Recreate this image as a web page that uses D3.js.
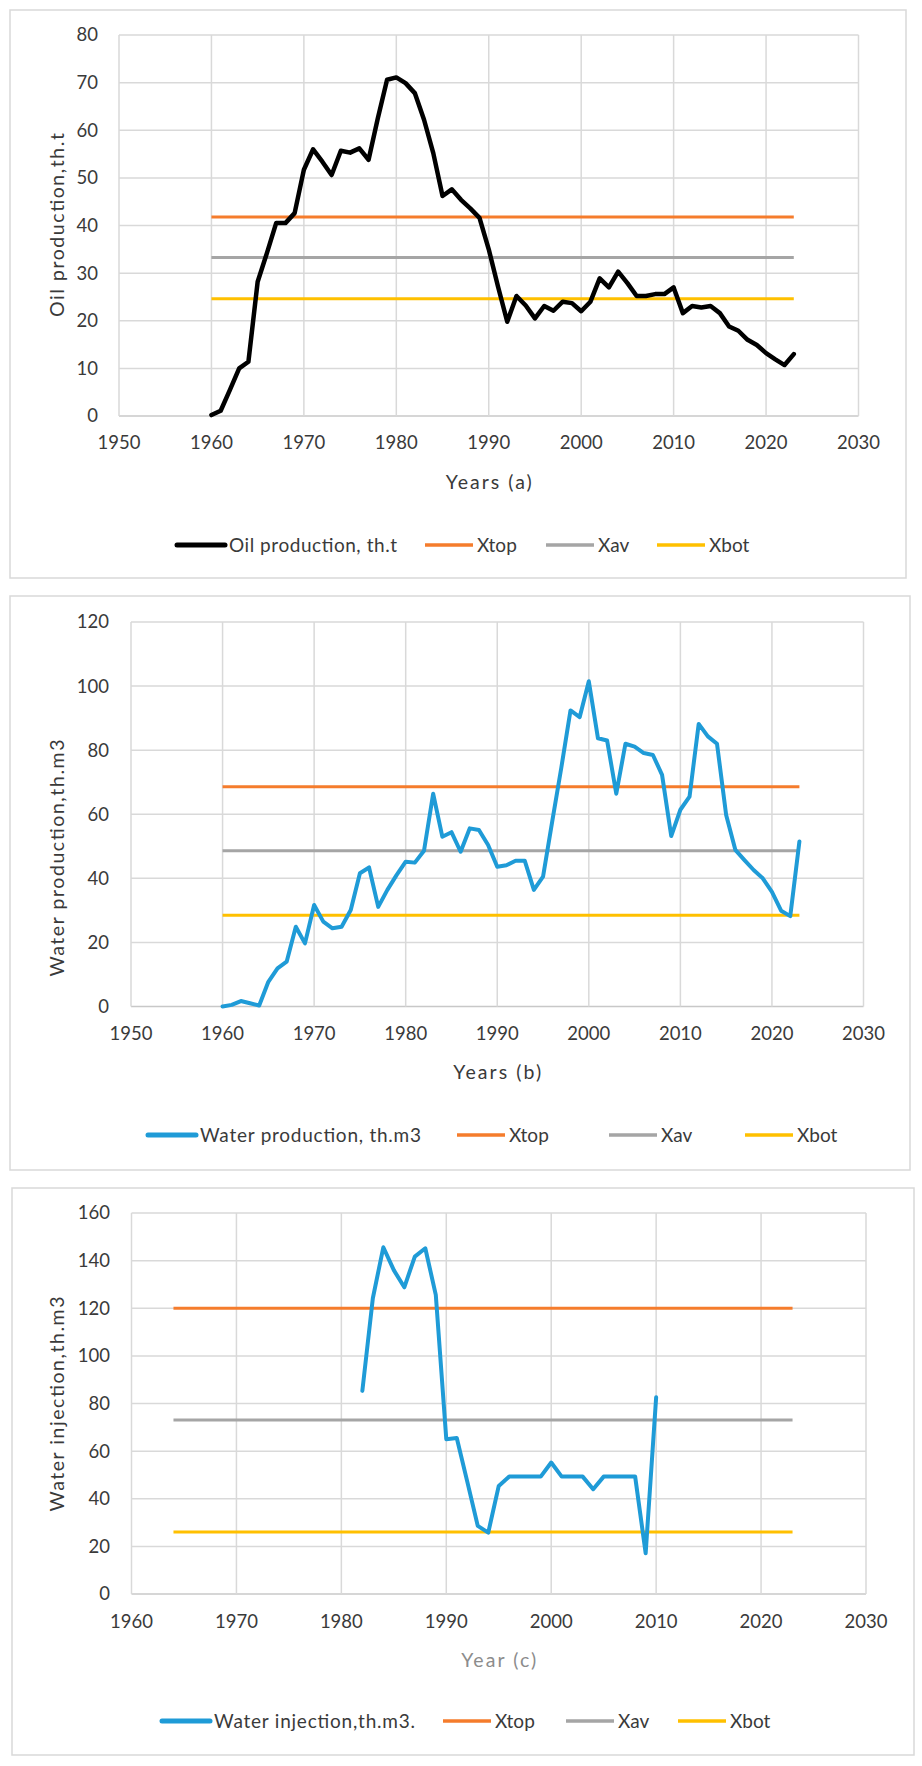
<!DOCTYPE html>
<html>
<head>
<meta charset="utf-8">
<script src="https://cdn.jsdelivr.net/npm/d3@7"></script>
<style>
  body { margin: 0; background: #fff; }
  svg { display: block; font-family: Lato, "Liberation Sans", sans-serif; }
</style>
</head>
<body>
<svg id="chart" width="922" height="1766"></svg>
<script>
// years shared by oil and water production
var prodYears = [1960, 1961, 1962, 1963, 1964, 1965, 1966, 1967, 1968, 1969,
  1970, 1971, 1972, 1973, 1974, 1975, 1976, 1977, 1978, 1979,
  1980, 1981, 1982, 1983, 1984, 1985, 1986, 1987, 1988, 1989,
  1990, 1991, 1992, 1993, 1994, 1995, 1996, 1997, 1998, 1999,
  2000, 2001, 2002, 2003, 2004, 2005, 2006, 2007, 2008, 2009,
  2010, 2011, 2012, 2013, 2014, 2015, 2016, 2017, 2018, 2019,
  2020, 2021, 2022, 2023];

var oilProduction = [0.2, 1.1, 5.5, 10, 11.4, 28.2, 34.2, 40.5, 40.5, 42.6,
  51.7, 56, 53.4, 50.6, 55.7, 55.3, 56.2, 53.8, 62.5, 70.6,
  71.1, 69.9, 67.8, 62.2, 55.2, 46.2, 47.6, 45.4, 43.6, 41.6,
  35, 27.2, 19.8, 25.2, 23.2, 20.5, 23.1, 22.1, 24, 23.7,
  22, 24, 28.9, 27, 30.3, 27.9, 25.2, 25.2, 25.6, 25.6,
  27, 21.6, 23.1, 22.8, 23.1, 21.6, 18.8, 17.9, 16, 14.9,
  13.2, 11.9, 10.7, 13];

var waterProduction = [0, 0.5, 1.7, 1, 0.3, 7.7, 11.9, 14, 24.9, 19.7,
  31.7, 26.5, 24.4, 24.9, 30.1, 41.6, 43.4, 31.1, 36.4, 41,
  45.2, 44.9, 48.6, 66.4, 53, 54.4, 48.3, 55.6, 55.1, 50.4,
  43.6, 44.1, 45.5, 45.5, 36.4, 40.5, 57.7, 74.6, 92.4, 90.3,
  101.5, 83.7, 83, 66.4, 82, 81.1, 79.1, 78.5, 72.3, 53.2,
  61.4, 65.5, 88.2, 84.3, 82, 59.8, 48.9, 45.7, 42.6, 40,
  35.8, 29.9, 28.2, 51.5];

var injYears = [1982, 1983, 1984, 1985, 1986, 1987, 1988, 1989,
  1990, 1991, 1992, 1993, 1994, 1995, 1996, 1997, 1998, 1999,
  2000, 2001, 2002, 2003, 2004, 2005, 2006, 2007, 2008, 2009, 2010];

var waterInjection = [85.3, 124.2, 145.6, 136, 128.8, 141.7, 145.2, 125.6,
  65, 65.5, 47.2, 28.6, 25.8, 45.4, 49.3, 49.3, 49.3, 49.3,
  55.2, 49.3, 49.3, 49.3, 44, 49.3, 49.3, 49.3, 49.3, 17.1, 82.6];

// Xtop, Xav, Xbot levels and the years they span
var levelNames = ["Xtop", "Xav", "Xbot"];
var oilLevels = [41.8, 33.3, 24.6];
var waterLevels = [68.6, 48.6, 28.5];
var injLevels = [120, 73.1, 26];
var oilLevelSpan = [1960, 2023];
var waterLevelSpan = [1960, 2023];
var injLevelSpan = [1964, 2023];

// axis ticks
var oilXTicks = [1950, 1960, 1970, 1980, 1990, 2000, 2010, 2020, 2030];
var oilYTicks = [0, 10, 20, 30, 40, 50, 60, 70, 80];
var waterXTicks = [1950, 1960, 1970, 1980, 1990, 2000, 2010, 2020, 2030];
var waterYTicks = [0, 20, 40, 60, 80, 100, 120];
var injXTicks = [1960, 1970, 1980, 1990, 2000, 2010, 2020, 2030];
var injYTicks = [0, 20, 40, 60, 80, 100, 120, 140, 160];

var levelColors = ["#f57c2c", "#a5a5a5", "#ffc000"];
var textColor = "#3a3a3a";
var gridColor = "#d9d9d9";

const svg = d3.select("#chart");

svg.append("rect")
    .attr("width", 922).attr("height", 1766)
    .attr("fill", "#fff");

// squeeze or stretch a label's spacing to the width it has in the picture
function fitWidth(sel, w) {
    if (w) sel.attr("textLength", w).attr("lengthAdjust", "spacing");
}

function drawPanel(p) {
    var g = svg.append("g");

    g.append("rect")
        .attr("x", p.box[0]).attr("y", p.box[1])
        .attr("width", p.box[2] - p.box[0]).attr("height", p.box[3] - p.box[1])
        .attr("fill", "#fff")
        .attr("stroke", gridColor)
        .attr("stroke-width", 1.5);

    var x = d3.scaleLinear().domain(p.xDomain).range([p.plot[0], p.plot[2]]);
    var y = d3.scaleLinear().domain(p.yDomain).range([p.plot[3], p.plot[1]]);

    // gridlines
    g.append("g").selectAll("line")
      .data(p.yTicks)
      .join("line")
        .attr("x1", x(p.xDomain[0])).attr("x2", x(p.xDomain[1]))
        .attr("y1", d => y(d)).attr("y2", d => y(d))
        .attr("stroke", d => d == 0 ? "#c8c8c8" : gridColor)
        .attr("stroke-width", 1.5);

    g.append("g").selectAll("line")
      .data(p.xTicks)
      .join("line")
        .attr("x1", d => x(d)).attr("x2", d => x(d))
        .attr("y1", y(p.yDomain[0])).attr("y2", y(p.yDomain[1]))
        .attr("stroke", gridColor)
        .attr("stroke-width", 1.5);

    // tick labels
    g.append("g").selectAll("text")
      .data(p.yTicks)
      .join("text")
        .attr("x", p.plot[0] - p.yLabelGap)
        .attr("y", d => y(d))
        .attr("dy", "0.35em")
        .attr("text-anchor", "end")
        .attr("fill", textColor)
        .style("font-size", "18.5px")
        .text(d => d);

    g.append("g").selectAll("text")
      .data(p.xTicks)
      .join("text")
        .attr("x", d => x(d))
        .attr("y", y(0) + p.xLabelGap)
        .attr("dy", "0.35em")
        .attr("text-anchor", "middle")
        .attr("fill", textColor)
        .style("font-size", "18.5px")
        .text(d => d);

    // axis titles
    g.append("text")
        .attr("transform", "translate(" + p.yTitlePos[0] + "," + p.yTitlePos[1] + ") rotate(-90)")
        .attr("dy", "0.35em")
        .attr("text-anchor", "middle")
        .attr("fill", textColor)
        .style("font-size", "19.5px")
        .text(p.yTitle)
        .call(fitWidth, p.yTitleWidth);

    g.append("text")
        .attr("x", (p.plot[0] + p.plot[2]) / 2)
        .attr("y", p.xTitleY)
        .attr("dy", "0.35em")
        .attr("text-anchor", "middle")
        .attr("fill", p.xTitleColor || textColor)
        .style("font-size", "19.5px")
        .text(p.xTitle)
        .call(fitWidth, p.xTitleWidth);

    // level lines
    g.append("g").selectAll("line")
      .data(p.levels)
      .join("line")
        .attr("x1", x(p.levelSpan[0])).attr("x2", x(p.levelSpan[1]))
        .attr("y1", d => y(d)).attr("y2", d => y(d))
        .attr("stroke", (d, i) => levelColors[i])
        .attr("stroke-width", 3);

    // series
    var line = d3.line()
        .x((d, i) => x(p.years[i]))
        .y(d => y(d));

    g.append("path")
        .datum(p.values)
        .attr("d", line)
        .attr("fill", "none")
        .attr("stroke", p.color)
        .attr("stroke-width", p.lineWidth)
        .attr("stroke-linejoin", "round")
        .attr("stroke-linecap", "round");

    // legend
    var names = [p.seriesName].concat(levelNames);
    var colors = [p.color].concat(levelColors);
    var leg = g.append("g").selectAll("g")
      .data(names)
      .join("g")
        .attr("transform", (d, i) => "translate(" + p.legendX[i] + "," + p.legendY + ")");
    leg.append("line")
        .attr("x1", 0).attr("x2", 48)
        .attr("stroke", (d, i) => colors[i])
        .attr("stroke-width", (d, i) => i == 0 ? 5 : 3.5)
        .attr("stroke-linecap", (d, i) => i == 0 ? "round" : "butt");
    leg.append("text")
        .attr("x", 52)
        .attr("dy", "0.35em")
        .attr("fill", textColor)
        .style("font-size", "19px")
        .text(d => d)
        .each(function(d, i) {
            if (i == 0) d3.select(this).call(fitWidth, p.seriesNameWidth);
        });
}

drawPanel({
    box: [10, 10, 906, 578],
    plot: [119, 35, 858.5, 416],
    xDomain: [1950, 2030], yDomain: [0, 80],
    xTicks: oilXTicks, yTicks: oilYTicks,
    yLabelGap: 21, xLabelGap: 27,
    yTitle: "Oil production,th.t", yTitlePos: [57, 225], yTitleWidth: 184,
    xTitle: "Years (a)", xTitleY: 482, xTitleWidth: 86,
    years: prodYears, values: oilProduction, color: "#000", lineWidth: 4.5,
    seriesName: "Oil production, th.t", seriesNameWidth: 168,
    levels: oilLevels, levelSpan: oilLevelSpan,
    legendX: [177, 425, 546, 657], legendY: 545
});

drawPanel({
    box: [10, 596, 910, 1170],
    plot: [131, 622, 863.5, 1006.5],
    xDomain: [1950, 2030], yDomain: [0, 120],
    xTicks: waterXTicks, yTicks: waterYTicks,
    yLabelGap: 22, xLabelGap: 27.5,
    yTitle: "Water production,th.m3", yTitlePos: [57, 858], yTitleWidth: 237,
    xTitle: "Years (b)", xTitleY: 1072, xTitleWidth: 88,
    years: prodYears, values: waterProduction, color: "#1f9bd7", lineWidth: 4,
    seriesName: "Water production, th.m3", seriesNameWidth: 221,
    levels: waterLevels, levelSpan: waterLevelSpan,
    legendX: [148, 457, 609, 745], legendY: 1135
});

drawPanel({
    box: [12, 1188, 914, 1755],
    plot: [131.5, 1213, 866, 1594],
    xDomain: [1960, 2030], yDomain: [0, 160],
    xTicks: injXTicks, yTicks: injYTicks,
    yLabelGap: 21.5, xLabelGap: 28,
    yTitle: "Water injection,th.m3", yTitlePos: [57, 1404], yTitleWidth: 215,
    xTitle: "Year (c)", xTitleY: 1660, xTitleColor: "#8c8c8c", xTitleWidth: 75,
    years: injYears, values: waterInjection, color: "#1f9bd7", lineWidth: 4,
    seriesName: "Water injection,th.m3.", seriesNameWidth: 201,
    levels: injLevels, levelSpan: injLevelSpan,
    legendX: [162, 443, 566, 678], legendY: 1721
});
</script>
</body>
</html>
